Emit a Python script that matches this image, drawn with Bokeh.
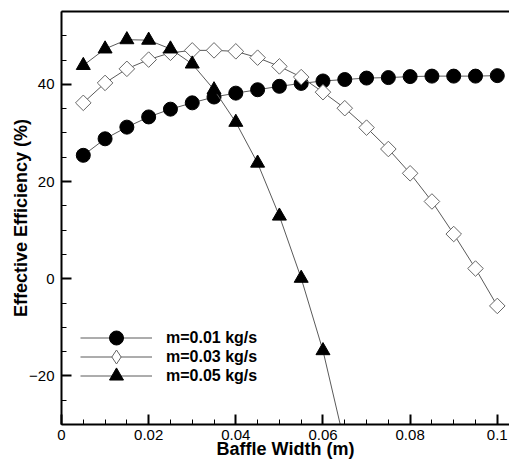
from bokeh.plotting import figure
from bokeh.models import (SingleIntervalTicker, CustomJSTickFormatter, Legend, LegendItem,
                          LinearAxis, Range1d, FixedTicker, ColumnDataSource)
from bokeh.embed import file_html
from bokeh.resources import INLINE
import math

# Data
x_all = [0.005, 0.010, 0.015, 0.020, 0.025, 0.030, 0.035, 0.040, 0.045, 0.050,
         0.055, 0.060, 0.065, 0.070, 0.075, 0.080, 0.085, 0.090, 0.095, 0.100]
eff_m001 = [25.4, 28.8, 31.2, 33.3, 34.9, 36.2, 37.4, 38.2, 38.9, 39.6,
            40.2, 40.7, 41.0, 41.3, 41.4, 41.6, 41.7, 41.7, 41.7, 41.8]
eff_m003 = [36.2, 40.3, 43.2, 45.1, 46.5, 47.0, 47.0, 46.8, 45.5, 43.7,
            41.5, 38.4, 35.1, 31.1, 26.7, 21.7, 15.9, 9.2, 2.1, -5.6]
x_m005 = [0.005, 0.010, 0.015, 0.020, 0.025, 0.030, 0.035, 0.040, 0.045, 0.050,
          0.055, 0.060, 0.065]
eff_m005 = [43.9, 47.3, 49.2, 49.1, 47.3, 44.2, 38.9, 32.2, 23.8, 12.9,
            0.1, -14.8, -34.0]
labels = ["m=0.01 kg/s", "m=0.03 kg/s", "m=0.05 kg/s"]
x_title = "Baffle Width (m)"
y_title = "Effective Efficiency (%)"

FONT = "Liberation Sans"

p = figure(width=509, height=461, output_backend="svg", toolbar_location=None,
           x_range=Range1d(0, 0.1028), y_range=Range1d(-30, 55),
           min_border_left=61, min_border_right=0, min_border_top=11, min_border_bottom=37)
p.outline_line_color = None
p.grid.visible = False
p.background_fill_color = "white"
p.border_fill_color = "white"

line_col = "#5a5a5a"
l1 = p.line(x_all, eff_m001, line_color=line_col, line_width=1)
s1 = p.scatter(x_all, eff_m001, marker="circle", size=14, fill_color="black", line_color="black")
l3 = p.line(x_all, eff_m003, line_color=line_col, line_width=1)
s3 = p.scatter(x_all, eff_m003, marker="square", angle=math.pi / 4, size=11,
               fill_color="white", line_color="#666666", line_width=1)
l5 = p.line(x_m005, eff_m005, line_color=line_col, line_width=1)
s5 = p.scatter(x_m005, eff_m005, marker="triangle", size=14, fill_color="black", line_color="black")
# legend-only diamond glyph (no drawable point)
d3 = p.scatter("x", "y", source=ColumnDataSource(dict(x=[float("nan")], y=[float("nan")])),
               marker="diamond", size=14, fill_color="white", line_color="#666666", line_width=1)

# axes
xa = p.xaxis[0]
xa.ticker = SingleIntervalTicker(interval=0.02, num_minor_ticks=4)
xa.formatter = CustomJSTickFormatter(code="return tick.toFixed(2).replace(/0+$/,'').replace(/\\.$/,'');")
ya = p.yaxis[0]
ya.ticker = SingleIntervalTicker(interval=20, num_minor_ticks=4)

for ax in (xa, ya):
    ax.axis_line_width = 2
    ax.axis_line_color = "black"
    ax.major_tick_in = 10
    ax.major_tick_out = 0
    ax.minor_tick_in = 5
    ax.minor_tick_out = 0
    ax.major_tick_line_width = 2
    ax.minor_tick_line_width = 1
    ax.major_label_text_font = FONT
    ax.major_label_text_font_size = "15px"
    ax.major_label_text_color = "black"
    ax.axis_label_text_font = FONT
    ax.axis_label_text_font_style = "bold"
    ax.axis_label_text_font_size = "18px"
    ax.axis_label_text_color = "black"

xa.axis_label = x_title
xa.major_label_standoff = 5
xa.axis_label_standoff = -4
ya.axis_label = y_title
ya.major_label_standoff = 7
ya.axis_label_standoff = -5

top = LinearAxis(ticker=FixedTicker(ticks=[]), axis_line_width=2, axis_line_color="black",
                 major_tick_in=0, major_tick_out=0, minor_tick_in=0, minor_tick_out=0)
p.add_layout(top, "above")

rows = [(labels[0], [l1, s1], 69), (labels[1], [l3, d3], 50), (labels[2], [l5, s5], 31)]
for lab, rends, yoff in rows:
    lg = Legend(items=[LegendItem(label=lab, renderers=rends)], location=(19, yoff))
    lg.glyph_width = 72
    lg.glyph_height = 35
    lg.padding = 0
    lg.margin = 0
    lg.label_standoff = 14
    lg.label_text_font = FONT
    lg.label_text_font_style = "bold"
    lg.label_text_font_size = "16px"
    lg.label_text_color = "black"
    lg.background_fill_alpha = 0
    lg.border_line_color = None
    p.add_layout(lg)

open("out.html", "w").write(file_html(p, INLINE))
